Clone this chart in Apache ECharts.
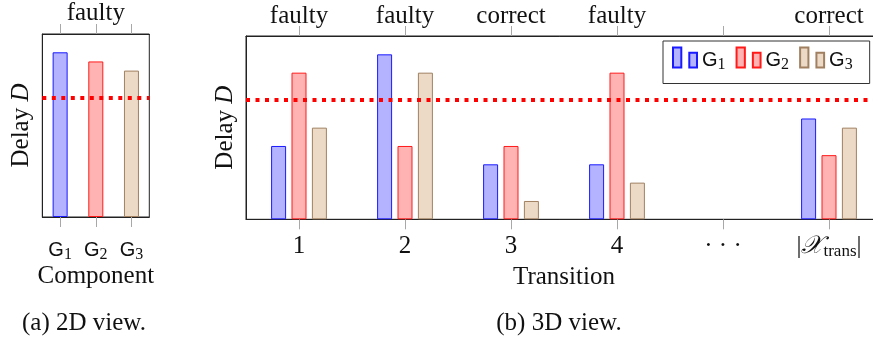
<!DOCTYPE html>
<html><head><meta charset="utf-8">
<script src="https://cdn.jsdelivr.net/npm/echarts@6/dist/echarts.min.js"></script>
<style>html,body{margin:0;padding:0;background:#fff}#c{width:873px;height:343px}</style>
</head><body><div id="c"></div>
<script>
// ---- data ----
const components = ['G1', 'G2', 'G3'];
const componentDelay = [9, 8.5, 8];
const componentTopLabels = ['', 'faulty', ''];
const transitions = ['1', '2', '3', '4', '· · ·', '|𝒳trans|'];
const transitionTopLabels = ['faulty', 'faulty', 'correct', 'faulty', '', 'correct'];
const delayG1 = [4, 9, 3, 3, null, 5.5];
const delayG2 = [8, 4, 4, 8, null, 3.5];
const delayG3 = [5, 8, 1, 2, null, 5];
const threshold = 6.5;
const yMax = 10;

// ---- styles ----
const SERIF = 'Liberation Serif';
const SANS = 'Liberation Sans';
const TXT = '#111';
const fills = ['#b3b3ff', '#ffb3b3', '#ecd9c6'];
const borders = ['#1a1aff', '#ff1a1a', '#a08060'];
const FS = 25;

const richG = {
  g: { fontFamily: SANS, fontSize: 20, lineHeight: 25, color: TXT },
  s: { fontFamily: SERIF, fontSize: 16, lineHeight: 16, verticalAlign: 'bottom', color: TXT }
};
const richX = {
  n: { fontFamily: SERIF, fontSize: FS, lineHeight: 28, color: TXT },
  x: { fontFamily: SERIF, fontSize: FS, lineHeight: 28, fontStyle: 'italic', color: TXT },
  s: { fontFamily: SERIF, fontSize: 17, lineHeight: 17, verticalAlign: 'bottom', color: TXT }
};
const gLabel = name => '{g|G}{s|' + name.slice(1) + '}';
const tLabel = v => v.startsWith('|') ? '{n||}{x|𝒳}{s|trans}{n||}' : '{n|' + v + '}';
const topLabel = arr => (v, i) => arr[i] || '';

const tickStyle = { show: true, interval: 0, alignWithLabel: true, length: 10, lineStyle: { color: '#a8a8a8', width: 1 } };
const frameLine = { show: true, lineStyle: { color: '#222', width: 1 } };
const markThreshold = {
  silent: true, symbol: 'none', animation: false,
  label: { show: false },
  lineStyle: { color: '#ff0000', width: 4, type: [4, 5.5], cap: 'butt' },
  data: [{ yAxis: threshold }]
};
const yName = {
  name: 'Delay {i|D}', nameLocation: 'middle', nameGap: 8, nameRotate: 90,
  nameTextStyle: { fontFamily: SERIF, fontSize: FS, color: TXT,
    rich: { i: { fontFamily: SERIF, fontSize: FS, fontStyle: 'italic', color: TXT } } }
};
const labelBase = { interval: 0, hideOverlap: false, showMinLabel: true, showMaxLabel: true };
const serifLabel = { fontFamily: SERIF, fontSize: FS, fontWeight: 'normal', color: TXT };

const chart = echarts.init(document.getElementById('c'), null, { renderer: 'canvas' });
chart.setOption({
  animation: false,
  backgroundColor: '#fff',
  textStyle: { fontFamily: SERIF },
  grid: [
    { left: 42.3, top: 34, width: 107, height: 183, show: true, borderColor: '#222', borderWidth: 1, containLabel: false, outerBoundsMode: 'none' },
    { left: 246, top: 36, width: 636, height: 183.3, show: true, borderColor: '#222', borderWidth: 1, containLabel: false, outerBoundsMode: 'none' }
  ],
  xAxis: [
    { type: 'category', gridIndex: 0, data: components, position: 'bottom',
      axisLine: frameLine, axisTick: tickStyle,
      axisLabel: Object.assign({ margin: 21, formatter: gLabel, rich: richG }, labelBase),
      name: 'Component', nameLocation: 'middle', nameGap: 47, nameMoveOverlap: false,
      nameTextStyle: { fontFamily: SERIF, fontSize: FS, color: TXT } },
    { type: 'category', gridIndex: 0, data: components, position: 'top',
      axisLine: frameLine, axisTick: tickStyle,
      axisLabel: Object.assign({ margin: 8, formatter: topLabel(componentTopLabels) }, serifLabel, labelBase) },
    { type: 'category', gridIndex: 1, data: transitions, position: 'bottom',
      axisLine: frameLine, axisTick: tickStyle,
      axisLabel: Object.assign({ margin: 13, formatter: tLabel, rich: richX }, labelBase),
      name: 'Transition', nameLocation: 'middle', nameGap: 43,
      nameTextStyle: { fontFamily: SERIF, fontSize: FS, color: TXT } },
    { type: 'category', gridIndex: 1, data: transitions, position: 'top',
      axisLine: frameLine, axisTick: tickStyle,
      axisLabel: Object.assign({ margin: 7, formatter: topLabel(transitionTopLabels) }, serifLabel, labelBase) }
  ],
  yAxis: [
    Object.assign({ type: 'value', gridIndex: 0, min: 0, max: yMax,
      axisLine: frameLine, axisTick: { show: false }, axisLabel: { show: false }, splitLine: { show: false } }, yName),
    Object.assign({ type: 'value', gridIndex: 1, min: 0, max: yMax,
      axisLine: frameLine, axisTick: { show: false }, axisLabel: { show: false }, splitLine: { show: false } }, yName)
  ],
  legend: {
    data: components,
    left: 663, top: 41,
    orient: 'horizontal',
    itemWidth: 24, itemHeight: 25, itemGap: 10,
    padding: [5.5, 17, 10, 9],
    borderColor: '#333', borderWidth: 1, backgroundColor: '#fff',
    icon: 'path://M0,0h8.3v20h-8.3zM16.3,5.3h7.7v14.7h-7.7zM0,25',
    selectedMode: false,
    formatter: gLabel,
    textStyle: { color: TXT, rich: richG }
  },
  series: [
    { type: 'bar', name: 'component', xAxisIndex: 0, yAxisIndex: 0, barWidth: 15,
      data: componentDelay.map((v, i) => ({ value: v, itemStyle: { color: fills[i], borderColor: borders[i], borderWidth: 1 } })),
      markLine: markThreshold, clip: false },
    ...[delayG1, delayG2, delayG3].map((d, k) => ({
      type: 'bar', name: components[k], xAxisIndex: 2, yAxisIndex: 1,
      barWidth: 15, barGap: '36%', data: d,
      itemStyle: { color: fills[k], borderColor: borders[k], borderWidth: 1 },
      markLine: k === 0 ? markThreshold : undefined
    }))
  ],
  graphic: [
    { type: 'text', x: 84, y: 323, style: { text: '(a) 2D view.', font: FS + 'px ' + SERIF, fill: TXT, textAlign: 'center', textVerticalAlign: 'middle' } },
    { type: 'text', x: 559, y: 323, style: { text: '(b) 3D view.', font: FS + 'px ' + SERIF, fill: TXT, textAlign: 'center', textVerticalAlign: 'middle' } }
  ]
});
</script></body></html>
